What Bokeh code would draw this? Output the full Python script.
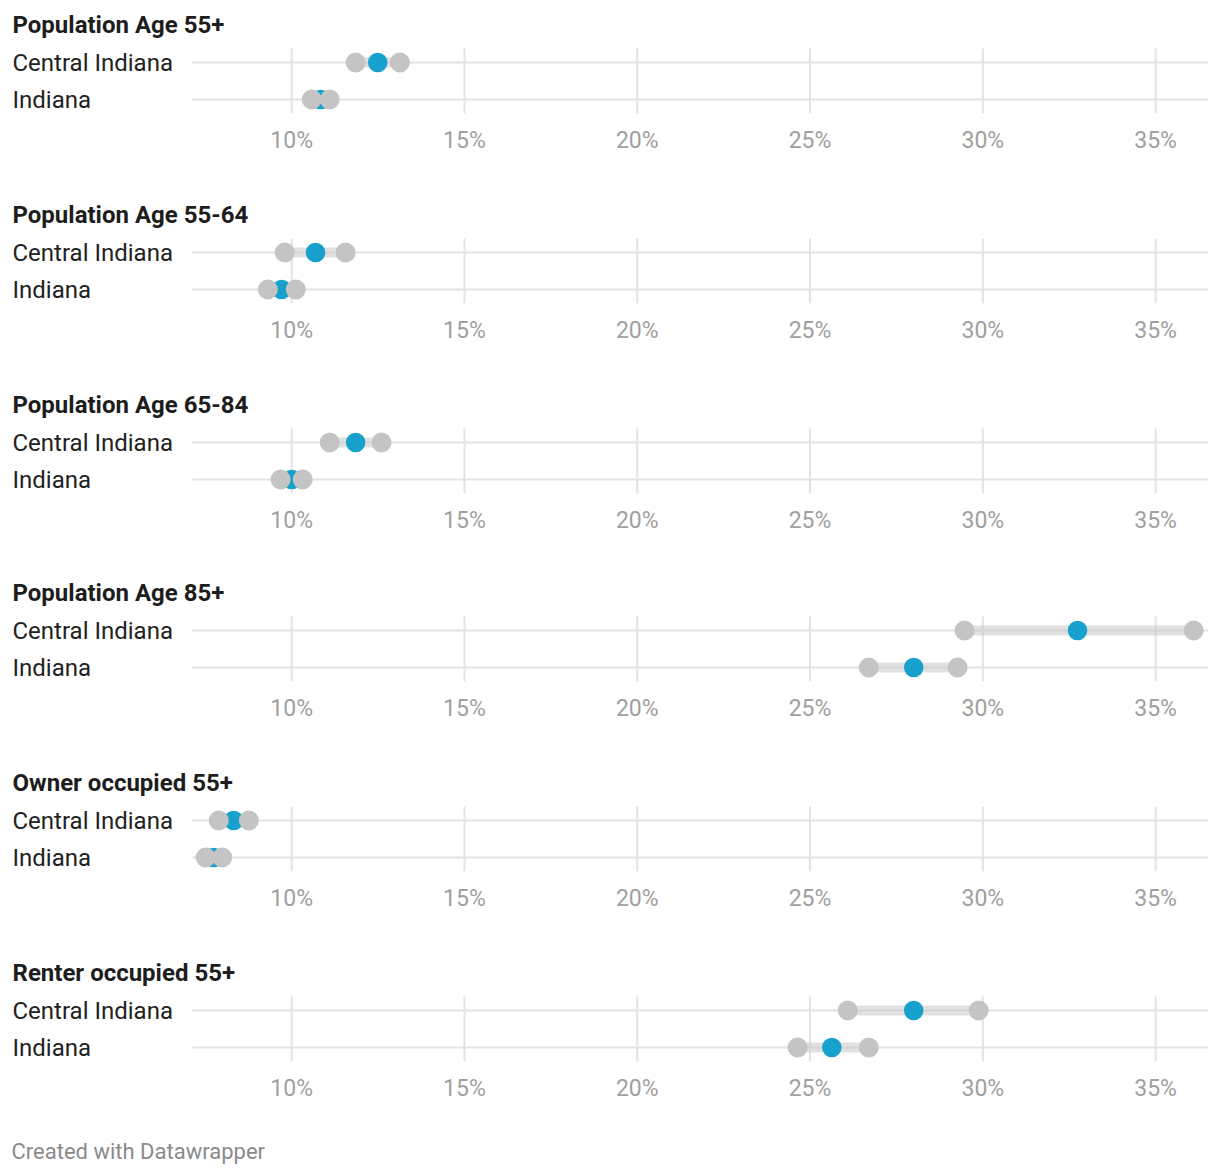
from bokeh.plotting import figure
from bokeh.layouts import column
from bokeh.models import FixedTicker, ColumnDataSource, Range1d
from bokeh.core.properties import value
from bokeh.embed import file_html
from bokeh.resources import INLINE

titles = ["Population Age 55+", "Population Age 55-64", "Population Age 65-84",
          "Population Age 85+", "Owner occupied 55+", "Renter occupied 55+"]
regions = ["Central Indiana", "Indiana"]
region_rows = [1, 0]

ci_low = [11.85, 9.80, 11.10, 29.47, 7.89, 26.09]
ci_mid = [12.49, 10.69, 11.85, 32.74, 8.32, 28.00]
ci_high = [13.13, 11.56, 12.60, 36.10, 8.76, 29.88]
in_low = [10.58, 9.31, 9.68, 26.70, 7.51, 24.64]
in_mid = [10.84, 9.71, 10.00, 28.00, 7.74, 25.63]
in_high = [11.10, 10.12, 10.32, 29.27, 7.99, 26.70]

tick_values = [10, 15, 20, 25, 30, 35]
tick_labels = ["10%", "15%", "20%", "25%", "30%", "35%"]
footer = "Created with Datawrapper"

# layout constants (pixels / data extents)
X_MIN, X_MAX = 7.13, 36.53          # extent of the plotting band
PLOT_LEFT = 192                     # page x where X_MIN sits
PLOT_RIGHT = 1208
PXU = (PLOT_RIGHT - PLOT_LEFT) / (X_MAX - X_MIN)
X_LEFT = X_MIN - PLOT_LEFT / PXU    # data value at page x = 0
ROW_PX = 37.0
Y_MIN, Y_MAX = -14 / ROW_PX, 1 + 14 / ROW_PX
FRAME_BOTTOM = 113                  # from figure top
Y_TOP = Y_MIN + FRAME_BOTTOM / ROW_PX
TITLE_Y = Y_MAX + 24 / ROW_PX

FONT = "Roboto"
BLUE = "#18a1cd"
GREY_DOT = "#c4c4c4"
GRID = "#e3e3e3"

heights = [190, 190, 188, 190, 190, 183]

figs = []
for i, title in enumerate(titles):
    h = heights[i]
    p = figure(width=1212, height=h, x_range=Range1d(X_LEFT, X_MAX), y_range=Range1d(Y_MIN, Y_TOP),
               output_backend="svg", toolbar_location=None, y_axis_location=None,
               min_border_left=0, min_border_right=4, min_border_top=0,
               min_border_bottom=h - FRAME_BOTTOM)
    p.outline_line_color = None
    p.background_fill_color = "white"
    p.border_fill_color = "white"
    p.xgrid.visible = False
    p.ygrid.visible = False

    ax = p.xaxis[0]
    ax.ticker = FixedTicker(ticks=tick_values)
    ax.major_label_overrides = {t: l for t, l in zip(tick_values, tick_labels)}
    ax.axis_line_color = None
    ax.major_tick_line_color = None
    ax.minor_tick_line_color = None
    ax.major_label_standoff = 7
    ax.major_label_text_font = FONT
    ax.major_label_text_font_size = "23px"
    ax.major_label_text_color = "#a0a0a0"

    # vertical grid lines at tick values
    grid_src = ColumnDataSource(dict(x=tick_values, y0=[Y_MIN] * len(tick_values),
                                     y1=[Y_MAX] * len(tick_values)))
    p.segment(x0="x", x1="x", y0="y0", y1="y1", source=grid_src, line_color=GRID, line_width=2)
    # row lines
    row_src = ColumnDataSource(dict(y=region_rows, x0=[X_MIN] * 2, x1=[X_MAX] * 2))
    p.segment(x0="x0", x1="x1", y0="y", y1="y", source=row_src, line_color=GRID, line_width=2)

    src = ColumnDataSource(dict(
        y=region_rows,
        low=[ci_low[i], in_low[i]],
        mid=[ci_mid[i], in_mid[i]],
        high=[ci_high[i], in_high[i]],
        name=regions,
    ))
    p.segment(x0="low", x1="high", y0="y", y1="y", source=src,
              line_width=10, line_color="#c8c8c8", line_alpha=0.55)
    p.scatter(x="mid", y="y", source=src, size=19.5, fill_color=BLUE, line_color=None)
    p.scatter(x="low", y="y", source=src, size=20, fill_color=GREY_DOT, line_color=None)
    p.scatter(x="high", y="y", source=src, size=20, fill_color=GREY_DOT, line_color=None)

    # row labels
    p.text(x=X_LEFT, y="y", text="name", source=src, x_offset=12,
           text_font=value(FONT), text_font_size="24px", text_color="#222222",
           text_baseline="middle", text_align="left")
    # panel title
    p.text(x=[X_LEFT], y=[TITLE_Y], text=[title], x_offset=12,
           text_font=value(FONT), text_font_size="24px", text_font_style="bold",
           text_color="#1d1d1d", text_baseline="middle", text_align="left")
    figs.append(p)

# footer
f = figure(width=1212, height=40, x_range=Range1d(X_LEFT, X_MAX), y_range=Range1d(0, 1),
           output_backend="svg", toolbar_location=None, x_axis_location=None, y_axis_location=None,
           min_border=0)
f.outline_line_color = None
f.xgrid.visible = False
f.ygrid.visible = False
f.text(x=[X_LEFT], y=[0.5], text=[footer], x_offset=11,
       text_font=value(FONT), text_font_size="22px", text_color="#8a8a8a",
       text_baseline="middle", text_align="left")
figs.append(f)

layout = column(*figs, spacing=0)
open("out.html", "w").write(file_html(layout, INLINE))
